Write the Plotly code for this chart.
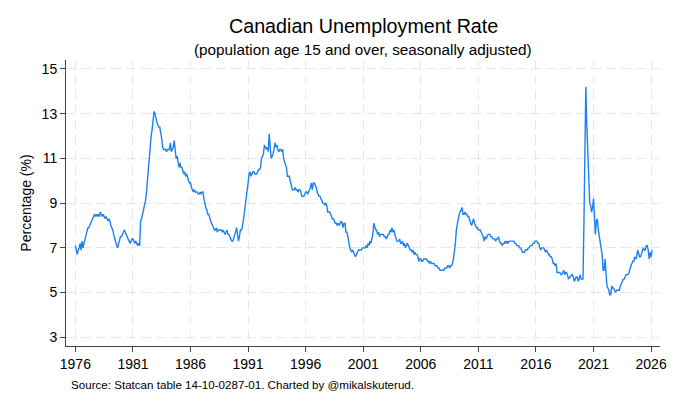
import plotly.graph_objects as go
import pandas as pd

# Monthly unemployment rate (%), Jan 1976 onward, one row per year
rate_1976_1985 = [
    7.1, 6.8, 6.7, 6.9, 7.0, 7.2, 6.9, 7.3, 7.0, 7.2, 7.4, 7.5,
    7.8, 7.9, 7.9, 8.0, 8.1, 8.2, 8.3, 8.4, 8.5, 8.4, 8.5, 8.4,
    8.5, 8.4, 8.6, 8.5, 8.4, 8.5, 8.4, 8.3, 8.4, 8.3, 8.2, 8.3,
    8.2, 8.0, 7.9, 7.8, 7.6, 7.4, 7.2, 7.1, 7.0, 7.2, 7.3, 7.5,
    7.5, 7.6, 7.7, 7.8, 7.7, 7.6, 7.5, 7.4, 7.3, 7.2, 7.3, 7.4,
    7.4, 7.3, 7.2, 7.3, 7.2, 7.1, 7.2, 7.1, 8.2, 8.3, 8.5, 8.7,
    8.8, 9.1, 9.4, 9.9, 10.6, 11.2, 11.7, 12.0, 12.3, 12.8, 13.1, 13.0,
    12.7, 12.6, 12.5, 12.4, 12.4, 12.2, 11.9, 11.5, 11.4, 11.4, 11.4, 11.3,
    11.4, 11.4, 11.4, 11.7, 11.3, 11.4, 11.5, 11.8, 11.4, 11.0, 11.1, 10.9,
    10.6, 10.8, 10.6, 10.6, 10.4, 10.3, 10.4, 10.2, 10.3, 10.1, 10.0, 9.9,
]
rate_1986_1995 = [
    9.9, 9.7, 9.6, 9.5, 9.6, 9.5, 9.5, 9.5, 9.4, 9.4, 9.5, 9.4,
    9.5, 9.5, 9.2, 8.9, 8.8, 8.7, 8.5, 8.5, 8.3, 8.2, 8.1, 8.0,
    7.9, 7.8, 7.8, 7.9, 7.7, 7.8, 7.8, 7.8, 7.8, 7.7, 7.8, 7.7,
    7.6, 7.7, 7.8, 7.6, 7.6, 7.5, 7.4, 7.3, 7.3, 7.4, 7.6, 7.7,
    7.9, 7.6, 7.3, 7.5, 7.8, 7.8, 7.9, 8.2, 8.5, 8.8, 9.2, 9.5,
    9.9, 10.3, 10.4, 10.2, 10.3, 10.4, 10.4, 10.3, 10.3, 10.3, 10.4, 10.5,
    10.5, 10.6, 11.0, 11.1, 11.2, 11.6, 11.5, 11.4, 11.5, 11.3, 12.1, 11.7,
    11.0, 11.1, 11.2, 11.4, 11.7, 11.5, 11.6, 11.4, 11.3, 11.4, 11.4, 11.3,
    11.4, 11.0, 10.8, 10.7, 10.6, 10.2, 10.2, 10.2, 10.0, 9.8, 9.6, 9.6,
    9.6, 9.7, 9.6, 9.6, 9.5, 9.6, 9.6, 9.5, 9.3, 9.3, 9.3, 9.4,
]
rate_1996_2005 = [
    9.5, 9.5, 9.4, 9.5, 9.6, 9.7, 9.9, 9.6, 9.9, 9.9, 9.8, 9.7,
    9.5, 9.4, 9.3, 9.3, 9.2, 9.1, 9.0, 9.0, 8.9, 9.0, 8.9, 8.6,
    8.6, 8.6, 8.5, 8.4, 8.3, 8.3, 8.2, 8.1, 8.1, 8.0, 8.1, 8.0,
    8.1, 8.2, 8.1, 7.9, 8.1, 8.1, 7.7, 7.7, 7.5, 7.2, 7.0, 6.9,
    6.8, 6.9, 6.8, 6.7, 6.6, 6.7, 6.8, 6.9, 6.9, 6.9, 6.9, 7.0,
    7.0, 7.0, 7.0, 7.1, 7.0, 7.2, 7.1, 7.3, 7.2, 7.4, 7.6, 8.1,
    7.9, 7.8, 7.8, 7.6, 7.7, 7.5, 7.6, 7.6, 7.6, 7.6, 7.5, 7.5,
    7.4, 7.5, 7.6, 7.6, 7.8, 7.7, 7.9, 7.7, 7.8, 7.6, 7.4, 7.3,
    7.3, 7.3, 7.4, 7.2, 7.2, 7.3, 7.1, 7.2, 7.0, 7.1, 7.2, 7.1,
    7.0, 6.9, 6.9, 6.8, 6.9, 6.7, 6.8, 6.7, 6.7, 6.6, 6.4, 6.5,
]
rate_2006_2015 = [
    6.5, 6.4, 6.4, 6.5, 6.5, 6.5, 6.5, 6.4, 6.4, 6.3, 6.4, 6.3,
    6.3, 6.3, 6.3, 6.2, 6.2, 6.2, 6.1, 6.1, 6.0, 6.0, 6.0, 6.0,
    6.0, 6.1, 6.1, 6.1, 6.2, 6.2, 6.1, 6.2, 6.2, 6.3, 6.5, 6.8,
    7.2, 7.8, 8.1, 8.2, 8.5, 8.6, 8.7, 8.8, 8.5, 8.5, 8.6, 8.5,
    8.5, 8.4, 8.4, 8.2, 8.1, 8.0, 8.2, 8.3, 8.1, 8.0, 7.9, 7.9,
    7.8, 7.8, 7.8, 7.7, 7.6, 7.5, 7.3, 7.5, 7.4, 7.5, 7.6, 7.6,
    7.6, 7.5, 7.5, 7.4, 7.4, 7.4, 7.3, 7.4, 7.4, 7.5, 7.3, 7.2,
    7.2, 7.1, 7.2, 7.2, 7.3, 7.2, 7.3, 7.2, 7.3, 7.3, 7.3, 7.3,
    7.3, 7.3, 7.2, 7.2, 7.1, 7.1, 7.1, 7.0, 7.0, 6.9, 6.8, 6.8,
    6.8, 6.9, 6.9, 6.9, 7.0, 7.0, 7.1, 7.1, 7.1, 7.2, 7.2, 7.3,
]
rate_2016_2026 = [
    7.3, 7.3, 7.2, 7.2, 7.0, 6.9, 7.0, 7.0, 7.0, 6.9, 6.8, 6.9,
    6.8, 6.7, 6.7, 6.6, 6.6, 6.5, 6.3, 6.3, 6.2, 6.3, 5.9, 5.9,
    5.9, 5.9, 5.8, 5.8, 5.9, 6.0, 5.8, 5.9, 5.9, 5.7, 5.6, 5.7,
    5.7, 5.8, 5.8, 5.7, 5.5, 5.6, 5.7, 5.7, 5.5, 5.6, 5.8, 5.6,
    5.6, 5.6, 8.0, 13.1, 14.2, 12.5, 10.9, 10.2, 9.0, 8.9, 8.6, 8.8,
    9.2, 8.2, 7.6, 8.2, 8.3, 7.8, 7.5, 7.1, 6.9, 6.7, 6.0, 6.0,
    6.5, 5.5, 5.3, 5.2, 5.1, 4.9, 4.9, 5.3, 5.2, 5.2, 5.1, 5.0,
    5.1, 5.1, 5.1, 5.1, 5.3, 5.4, 5.5, 5.6, 5.6, 5.7, 5.8, 5.8,
    5.8, 5.9, 6.1, 6.2, 6.3, 6.4, 6.4, 6.6, 6.5, 6.6, 6.9, 6.7,
    6.6, 6.6, 6.7, 6.9, 7.0, 6.9, 6.9, 7.1, 7.1, 6.9, 6.5, 6.8,
    6.6, 6.9,
]

x_tick_years = [1976, 1981, 1986, 1991, 1996, 2001, 2006, 2011, 2016, 2021, 2026]
y_tick_values = [3, 5, 7, 9, 11, 13, 15]

rate = rate_1976_1985 + rate_1986_1995 + rate_1996_2005 + rate_2006_2015 + rate_2016_2026
dates = pd.date_range("1976-01-01", periods=len(rate), freq="MS")

FONT = "Liberation Sans, Arial, Helvetica, sans-serif"

fig = go.Figure()
fig.add_trace(go.Scatter(
    x=dates,
    y=rate,
    mode="lines",
    line=dict(color="#1c82f0", width=1.4),
    showlegend=False,
))

grid = dict(showgrid=True, gridcolor="#e8e8e8", gridwidth=1, griddash="10px,5px")

# the page body adds an 8px offset, so the figure is 8px smaller than the window
fig.update_layout(
    width=672,
    height=400,
    margin=dict(l=58, r=20, t=52, b=62),
    paper_bgcolor="white",
    plot_bgcolor="white",
    font=dict(family=FONT, color="black", size=14),
    xaxis=dict(
        type="date",
        range=["1975-03-10", "2026-10-10"],
        tickvals=[f"{y}-01-01" for y in x_tick_years],
        ticktext=[str(y) for y in x_tick_years],
        ticks="outside", ticklen=5, tickcolor="#444",
        showline=True, linecolor="#444", linewidth=1,
        zeroline=False, automargin=False,
        tickfont=dict(size=14),
        **grid,
    ),
    yaxis=dict(
        range=[2.61, 15.4],
        tickvals=y_tick_values,
        ticks="outside", ticklen=5, tickcolor="#444",
        showline=True, linecolor="#444", linewidth=1,
        zeroline=False, automargin=False,
        tickfont=dict(size=14),
        title=dict(text="Percentage (%)", font=dict(size=14), standoff=6),
        **grid,
    ),
    annotations=[
        dict(text="Canadian Unemployment Rate", xref="paper", yref="paper",
             x=0.5, y=1.118, xanchor="center", yanchor="middle",
             showarrow=False, font=dict(size=19.7)),
        dict(text="(population age 15 and over, seasonally adjusted)", xref="paper", yref="paper",
             x=0.5, y=1.035, xanchor="center", yanchor="middle",
             showarrow=False, font=dict(size=15.3)),
        dict(text="Source: Statcan table 14-10-0287-01. Charted by @mikalskuterud.",
             xref="paper", yref="paper", x=0.005, y=-0.136,
             xanchor="left", yanchor="middle", showarrow=False, font=dict(size=11.6)),
    ],
)

fig.write_html("out.html")
